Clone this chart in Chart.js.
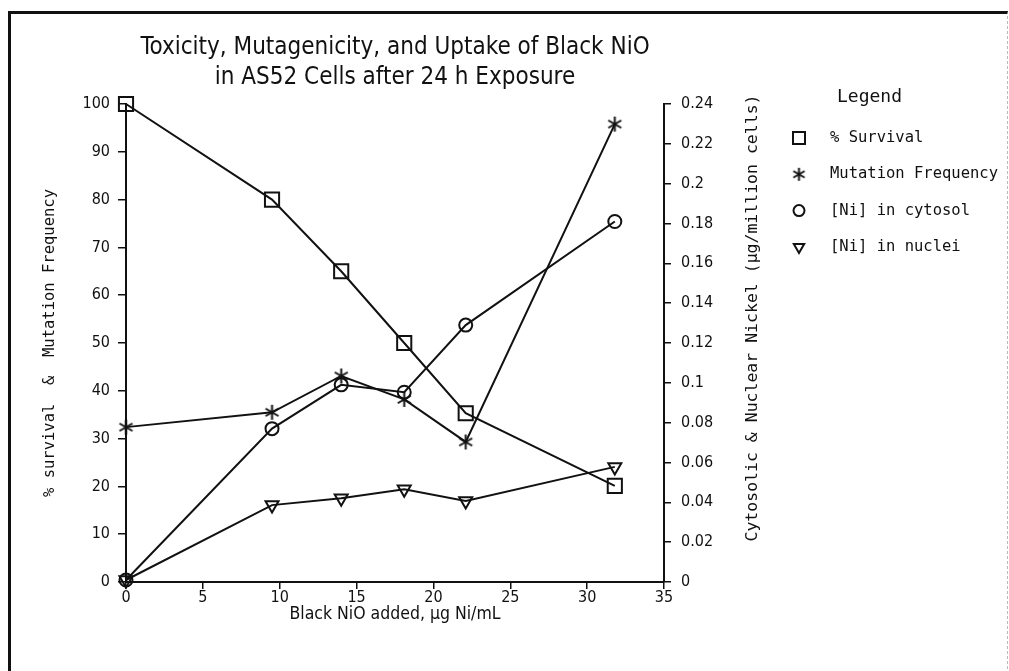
<!DOCTYPE html>
<html>
<head>
<meta charset="utf-8">
<script src="https://cdn.jsdelivr.net/npm/chart.js@4/dist/chart.umd.min.js"></script>
<style>
    html, body { margin: 0; padding: 0; background: #fff; }
    #wrap { position: relative; width: 1009px; height: 671px; overflow: hidden; }
    #frame { position: absolute; left: 8px; top: 11px; width: 996px; height: 700px;
             border-left: 3px solid #111; border-top: 3px solid #111; border-right: 1px dashed #bbb; }
    canvas { position: absolute; left: 0; top: 0; }
</style>
</head>
<body>
<div id="wrap">
    <div id="frame"></div>
    <canvas id="niChart" width="1009" height="671"></canvas>
</div>
<script>
// dose of black NiO (µg Ni/mL)
const doses = [0, 9.5, 14, 18.1, 22.1, 31.8];
// left axis series
const survival = [100, 80, 65, 50, 35.3, 20.1];
const mutation = [32.4, 35.5, 43.1, 38.2, 29.3, 95.8];
// right axis series (µg/million cells)
const cytosol = [0.001, 0.077, 0.099, 0.0953, 0.129, 0.181];
const nuclei = [0.001, 0.0386, 0.042, 0.0466, 0.0407, 0.0578];

const seriesLabels = ['% Survival', 'Mutation Frequency', '[Ni] in cytosol', '[Ni] in nuclei'];
const xTicks = [0, 5, 10, 15, 20, 25, 30, 35];
const rightTitle = 'Cytosolic & Nuclear Nickel (µg/million cells)';

const INK = '#111';
const COND = '"DejaVu Sans Condensed", "Liberation Sans Narrow", sans-serif';
const MONO = '"DejaVu Sans Mono", "Liberation Mono", monospace';

// six-spoke asterisk marker
function makeAsterisk(size) {
    const c = document.createElement('canvas');
    c.width = c.height = size;
    const g = c.getContext('2d');
    g.strokeStyle = INK;
    g.lineWidth = 2;
    const r = size / 2 - 1, m = size / 2;
    g.beginPath();
    [90, 30, 150].forEach(a => {
        const t = a * Math.PI / 180;
        g.moveTo(m + r * Math.cos(t), m - r * Math.sin(t));
        g.lineTo(m - r * Math.cos(t), m + r * Math.sin(t));
    });
    g.stroke();
    return c;
}
const asterisk = makeAsterisk(17);
const asteriskSmall = makeAsterisk(15);

function pts(ys) {
    return doses.map((x, i) => ({ x: x, y: ys[i] }));
}

function series(label, ys, axis, style, radius, rot) {
    return {
        label: label,
        data: pts(ys),
        yAxisID: axis,
        showLine: true,
        borderColor: INK,
        borderWidth: 2,
        backgroundColor: 'transparent',
        pointStyle: style,
        pointRadius: radius,
        pointRotation: rot || 0,
        pointBorderColor: INK,
        pointBackgroundColor: 'transparent',
        pointBorderWidth: 2,
        clip: false
    };
}

// legend + right axis title (reads bottom to top, like the left one)
const legendMarks = [
    { style: 'rect', radius: 8.5 },
    { style: asteriskSmall, radius: 7 },
    { style: 'circle', radius: 5.5 },
    { style: 'triangle', radius: 6 }
];
const legendBox = {
    id: 'legendBox',
    afterDraw(chart) {
        const ctx = chart.ctx;
        ctx.save();
        ctx.textBaseline = 'middle';
        ctx.textAlign = 'left';
        ctx.fillStyle = INK;
        ctx.font = '18px ' + MONO;
        ctx.fillText('Legend', 837, 97);
        ctx.font = '15.5px ' + MONO;
        chart.data.datasets.forEach((ds, i) => {
            const y = 138 + i * 36.3;
            ctx.strokeStyle = INK;
            ctx.fillStyle = 'rgba(0,0,0,0)';
            Chart.helpers.drawPoint(ctx, {
                pointStyle: legendMarks[i].style,
                rotation: ds.pointRotation,
                radius: legendMarks[i].radius,
                borderWidth: 2
            }, 799, y);
            ctx.fillStyle = INK;
            ctx.fillText(ds.label, 830, y);
        });

        const y2 = chart.scales.y2;
        ctx.translate(y2.right - 21, 318);
        ctx.rotate(-Math.PI / 2);
        ctx.textAlign = 'center';
        ctx.font = '16.5px ' + MONO;
        ctx.fillText(rightTitle, 0, 0);
        ctx.restore();
    }
};

const PAD_R = 235;

const ctx = document.getElementById('niChart').getContext('2d');
new Chart(ctx, {
    type: 'scatter',
    data: {
        datasets: [
            series(seriesLabels[0], survival, 'y', 'rect', 10),
            series(seriesLabels[1], mutation, 'y', asterisk, 8),
            series(seriesLabels[2], cytosol, 'y2', 'circle', 6.5),
            series(seriesLabels[3], nuclei, 'y2', 'triangle', 7.5, 180)
        ]
    },
    options: {
        responsive: false,
        animation: false,
        layout: { padding: { left: 0, top: 33, right: PAD_R, bottom: 0 } },
        scales: {
            x: {
                type: 'linear',
                min: 0,
                max: 35,
                afterBuildTicks: s => { s.ticks = xTicks.map(v => ({ value: v })); },
                ticks: { color: INK, font: { family: COND, size: 16 }, padding: -1, maxRotation: 0 },
                grid: { drawOnChartArea: false, color: INK, lineWidth: 1.5, tickLength: 7 },
                border: { color: INK, width: 2 },
                title: { display: true, text: 'Black NiO added, µg Ni/mL', color: INK,
                         font: { family: COND, size: 17.5 }, padding: { top: 0, bottom: 46 } },
                afterFit: s => { s.height = 89; }
            },
            y: {
                position: 'left',
                min: 0,
                max: 100,
                ticks: { stepSize: 10, color: INK, font: { family: COND, size: 16 }, padding: 8 },
                grid: { drawOnChartArea: false, color: INK, lineWidth: 1.5, tickLength: 8 },
                border: { color: INK, width: 2 },
                title: { display: true, text: '% survival  &  Mutation Frequency', color: INK,
                         font: { family: MONO, size: 15.5 }, padding: { top: 41, bottom: 0 } },
                afterFit: s => { s.width = 126; }
            },
            y2: {
                position: 'right',
                min: 0,
                max: 0.24,
                ticks: { stepSize: 0.02, color: INK, font: { family: COND, size: 16 }, padding: 10,
                         callback: v => String(+v.toFixed(2)) },
                grid: { drawOnChartArea: false, color: INK, lineWidth: 1.5, tickLength: 7 },
                border: { color: INK, width: 2 },
                afterFit: s => { s.width = s.chart.width - 664 - PAD_R; }
            }
        },
        plugins: {
            title: {
                display: true,
                fullSize: false,
                text: ['Toxicity, Mutagenicity, and Uptake of Black NiO', 'in AS52 Cells after 24 h Exposure'],
                color: INK,
                font: { family: COND, size: 24, weight: 'normal', lineHeight: 30 / 24 },
                padding: { top: 0, bottom: 11 }
            },
            legend: { display: false },
            tooltip: { enabled: false }
        }
    },
    plugins: [legendBox]
});
</script>
</body>
</html>
